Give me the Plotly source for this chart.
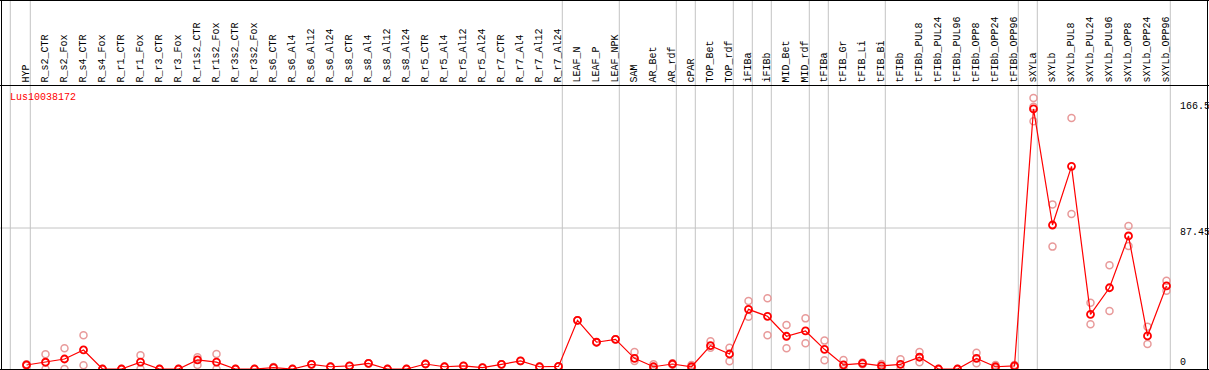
import plotly.graph_objects as go

# ---------------- data ----------------
categories = [
    "HYP", "R_s2_CTR", "R_s2_Fox", "R_s4_CTR", "R_s4_Fox", "R_r1_CTR", "R_r1_Fox",
    "R_r3_CTR", "R_r3_Fox", "R_r1s2_CTR", "R_r1s2_Fox", "R_r3s2_CTR", "R_r3s2_Fox",
    "R_s6_CTR", "R_s6_Al4", "R_s6_Al12", "R_s6_Al24", "R_s8_CTR", "R_s8_Al4",
    "R_s8_Al12", "R_s8_Al24", "R_r5_CTR", "R_r5_Al4", "R_r5_Al12", "R_r5_Al24",
    "R_r7_CTR", "R_r7_Al4", "R_r7_Al12", "R_r7_Al24", "LEAF_N", "LEAF_P", "LEAF_NPK",
    "SAM", "AR_Bet", "AR_rdf", "cPAR", "TOP_Bet", "TOP_rdf", "iFIBa", "iFIBb",
    "MID_Bet", "MID_rdf", "tFIBa", "tFIB_Gr", "tFIB_Li", "tFIB_Bi", "tFIBb",
    "tFIBb_PUL8", "tFIBb_PUL24", "tFIBb_PUL96", "tFIBb_OPP8", "tFIBb_OPP24",
    "tFIBb_OPP96", "sXYLa", "sXYLb", "sXYLb_PUL8", "sXYLb_PUL24", "sXYLb_PUL96",
    "sXYLb_OPP8", "sXYLb_OPP24", "sXYLb_OPP96",
]

mean_values = [
    2.5, 4.2, 6.2, 11.8, 0.0, 0.0, 4.3, 0.0, 0.0, 5.6, 4.3, 0.0, 0.0,
    0.8, 0.0, 2.9, 1.4, 1.9, 3.5, 0.0, 0.0, 3.1, 1.4, 1.9, 0.8,
    2.9, 5.0, 1.4, 1.6, 30.2, 16.6, 18.4,
    6.6, 1.4, 3.1, 1.4, 14.5, 9.3, 37.0, 32.7,
    20.3, 23.6, 12.2, 2.5, 3.5, 1.9, 2.9,
    7.3, 0.0, 0.0, 6.6, 1.4, 1.9,
    161.3, 89.3, 125.7, 33.9, 50.4, 82.5, 20.5, 51.5,
]

rep_a = [
    3.0, 9.1, 12.8, 20.9, 0.0, 0.0, 8.5, 0.0, 0.0, 7.3, 9.3, 0.0, 0.0,
    1.2, 0.0, 2.9, 1.4, 1.9, 3.5, 0.0, 0.0, 3.1, 1.4, 1.9, 0.8,
    2.9, 5.0, 1.4, 1.6, 30.2, 16.6, 18.4,
    10.5, 2.9, 3.6, 2.5, 17.2, 13.2, 42.2, 43.9,
    27.3, 31.4, 17.6, 5.6, 4.0, 3.1, 6.0,
    10.5, 0.0, 0.0, 10.1, 2.5, 2.5,
    168.1, 102.1, 155.7, 41.1, 64.3, 88.7, 26.2, 54.8,
]

rep_b = [
    2.0, 0.0, 0.0, 2.3, 0.0, 0.0, 0.0, 0.0, 0.0, 2.5, 0.0, 0.0, 0.0,
    0.4, 0.0, 2.9, 1.4, 1.9, 3.5, 0.0, 0.0, 3.1, 1.4, 1.9, 0.8,
    2.9, 5.0, 1.4, 1.6, 30.2, 16.6, 18.4,
    5.0, 0.0, 2.6, 0.4, 13.2, 4.8, 32.4, 20.9,
    12.8, 15.9, 5.4, 0.0, 3.0, 0.8, 0.0,
    4.2, 0.0, 0.0, 3.5, 0.4, 1.3,
    162.7, 75.9, 96.1, 27.7, 36.0, 76.3, 15.5, 48.6,
]

rep_c = [None] * 53 + [153.6, None, None, None, None, None, None, None]

gene_label = "Lus10038172"
y_tick_values = [166.5, 87.45, 0]
y_tick_labels = ["166.5", "87.45", "0"]
group_ends = [0, 28, 31, 34, 35, 37, 38, 39, 41, 42, 45, 52, 53, 60]
grid_value = 87.45

# ---------------- geometry helpers ----------------
W, H = 1209, 370
ML, MR, MT, MB = 1, 1, 85, 1
PW, PH = W - ML - MR, H - MT - MB
X_STEP = 19.0
X_FIRST = 26.5   # pixel of first category
PX_PER_UNIT = 141.0 / 87.45


def px_to_xunit(px):
    return (px - X_FIRST) / X_STEP


def px_to_xpaper(px):
    return (px - ML) / PW


def py_to_ypaper(py):
    return (H - MB - py) / PH


x_idx = list(range(len(categories)))
x_range = [px_to_xunit(ML), px_to_xunit(W - MR)]
y_range = [0, PH / PX_PER_UNIT]

fig = go.Figure()

# replicate points
rx, ry = [], []
for reps in (rep_a, rep_b, rep_c):
    for i, v in enumerate(reps):
        if v is not None:
            rx.append(i)
            ry.append(v)

fig.add_trace(go.Scatter(
    x=rx, y=ry, mode="markers",
    marker=dict(symbol="circle-open", size=7, color="#e89a9a",
                line=dict(width=1.5, color="#e89a9a")),
    hoverinfo="skip", showlegend=False,
))

fig.add_trace(go.Scatter(
    x=x_idx, y=mean_values, mode="lines+markers",
    line=dict(color="#ff0000", width=1.2),
    marker=dict(symbol="circle-open", size=7, color="#ff0000",
                line=dict(width=1.8, color="#ff0000")),
    showlegend=False,
))

shapes = []
gray = "#c4c4c4"
top_paper = py_to_ypaper(0)
# group separators
sep_positions = [px_to_xunit(10.3)] + [g + 0.2 for g in group_ends]
for s in sep_positions:
    shapes.append(dict(type="line", xref="x", yref="paper", x0=s, x1=s,
                       y0=0, y1=top_paper, line=dict(color=gray, width=1),
                       layer="below"))
# horizontal mid grid
shapes.append(dict(type="line", xref="paper", yref="y",
                   x0=px_to_xpaper(0), x1=px_to_xpaper(1170.3),
                   y0=grid_value, y1=grid_value,
                   line=dict(color=gray, width=1), layer="below"))
# black frame lines
blk = dict(color="black", width=1)
shapes.append(dict(type="line", xref="paper", yref="paper",
                   x0=px_to_xpaper(0), x1=px_to_xpaper(W), y0=py_to_ypaper(85.5), y1=py_to_ypaper(85.5), line=blk))
shapes.append(dict(type="line", xref="paper", yref="paper",
                   x0=px_to_xpaper(0), x1=px_to_xpaper(W), y0=py_to_ypaper(0.5), y1=py_to_ypaper(0.5), line=blk))
shapes.append(dict(type="line", xref="paper", yref="paper",
                   x0=px_to_xpaper(1.5), x1=px_to_xpaper(1.5), y0=py_to_ypaper(0), y1=py_to_ypaper(H), line=blk))
shapes.append(dict(type="line", xref="paper", yref="paper",
                   x0=px_to_xpaper(1207.5), x1=px_to_xpaper(1207.5), y0=py_to_ypaper(0), y1=py_to_ypaper(H), line=blk))
shapes.append(dict(type="line", xref="paper", yref="paper",
                   x0=px_to_xpaper(0), x1=px_to_xpaper(W), y0=py_to_ypaper(369.5), y1=py_to_ypaper(369.5), line=blk))

annotations = []
mono = "Liberation Mono, DejaVu Sans Mono, monospace"
for i, c in enumerate(categories):
    annotations.append(dict(
        x=i, y=py_to_ypaper(84), xref="x", yref="paper", text=c, textangle=-90,
        showarrow=False, xanchor="center", yanchor="bottom",
        font=dict(family=mono, size=10, color="black"), borderpad=0,
    ))

annotations.append(dict(
    x=px_to_xpaper(9), y=py_to_ypaper(97), xref="paper", yref="paper",
    text=gene_label, showarrow=False, xanchor="left", yanchor="middle",
    font=dict(family=mono, size=10, color="#ff0000"), borderpad=0,
))

tick_centers = [107, 232, 362]
for val, lab, cy in zip(y_tick_values, y_tick_labels, tick_centers):
    annotations.append(dict(
        x=px_to_xpaper(1179), y=val, xref="paper", yref="y",
        yshift=(H - MB - val * PX_PER_UNIT) - cy,
        text=lab, showarrow=False, xanchor="left", yanchor="middle",
        font=dict(family=mono, size=10, color="black"), borderpad=0,
    ))

fig.update_layout(
    width=W, height=H,
    margin=dict(l=ML, r=MR, t=MT, b=MB, pad=0),
    paper_bgcolor="white", plot_bgcolor="white",
    xaxis=dict(range=x_range, showgrid=False, zeroline=False, showticklabels=False,
               ticks="", showline=False, fixedrange=True),
    yaxis=dict(range=y_range, showgrid=False, zeroline=False, showticklabels=False,
               ticks="", showline=False, fixedrange=True),
    shapes=shapes, annotations=annotations,
)

fig.write_html(
    "out.html",
    config={"displayModeBar": False},
    post_script="document.body.style.margin='0';document.body.style.overflow='hidden';",
)
